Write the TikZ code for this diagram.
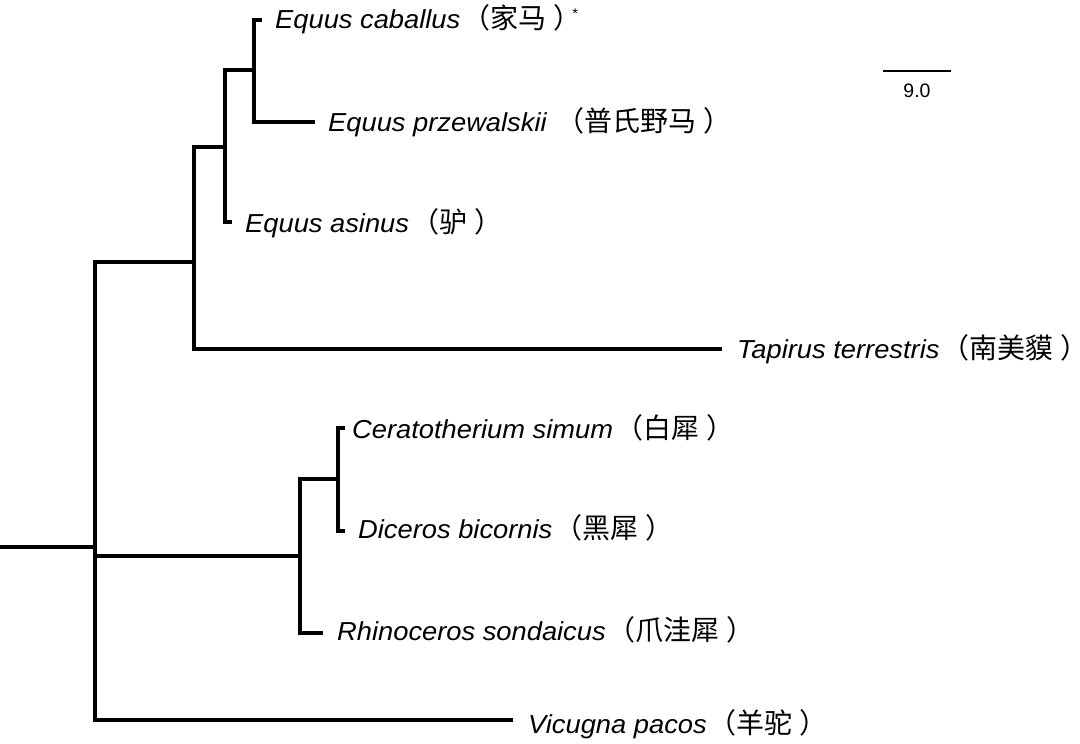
\documentclass[tikz,border=0pt]{standalone}
\usepackage{fontspec}
\setmainfont{Liberation Sans}
\newfontfamily\latinlab[FakeStretch=1.05]{Liberation Sans}
\newfontfamily\cjk{Noto Sans CJK SC}
\newcommand{\cnname}[1]{{\upshape\cjk\fontsize{28}{30}\selectfont\hspace{2pt}（#1\hspace{7pt}）\kern-12pt}}
\begin{document}
\begin{tikzpicture}[x=1pt,y=-1pt,
  branch/.style={line width=3.4pt,line join=miter,line cap=butt,black},
  taxon/.style={anchor=base west,inner sep=0pt,font=\latinlab\fontsize{26}{30}\selectfont\itshape},
  scalelabel/.style={anchor=base,inner sep=0pt,font=\fontsize{19.5}{22}\selectfont}]
\useasboundingbox (0,0) rectangle (1080,744);
% internal nodes
\coordinate (rootstart) at (0,547);
\coordinate (n0) at (95,547);
\coordinate (nA) at (194,262);
\coordinate (nB) at (225,147);
\coordinate (nC) at (254,70);
\coordinate (nD) at (300,556);
\coordinate (nE) at (338,479);
% tip ends
\coordinate (tCab) at (262,20);
\coordinate (tPrz) at (315,122);
\coordinate (tAsi) at (232,222);
\coordinate (tTap) at (722,349);
\coordinate (tCer) at (345,428);
\coordinate (tDic) at (345,531);
\coordinate (tRhi) at (323,633);
\coordinate (tVic) at (513,720);
% tree
\draw[branch] (rootstart) -- (n0);
\draw[branch] (n0) |- (nA);
\draw[branch] (n0) |- (nD);
\draw[branch] (n0) |- (tVic);
\draw[branch] (nA) |- (nB);
\draw[branch] (nA) |- (tTap);
\draw[branch] (nB) |- (nC);
\draw[branch] (nB) |- (tAsi);
\draw[branch] (nC) |- (tCab);
\draw[branch] (nC) |- (tPrz);
\draw[branch] (nD) |- (nE);
\draw[branch] (nD) |- (tRhi);
\draw[branch] (nE) |- (tCer);
\draw[branch] (nE) |- (tDic);
% labels
\node[taxon] (lCab) at (275,28) {Equus caballus\cnname{家马}\kern3pt\raisebox{10pt}{\upshape\fontsize{14}{16}\selectfont *}};
\node[taxon] (lPrz) at (328,131) {Equus przewalskii \cnname{普氏野马}};
\node[taxon] (lAsi) at (245,232) {Equus asinus\cnname{驴}};
\node[taxon] (lTap) at (737,358) {Tapirus terrestris\cnname{南美貘}};
\node[taxon] (lCer) at (352,438) {Ceratotherium simum\cnname{白犀}};
\node[taxon] (lDic) at (358,538) {Diceros bicornis\cnname{黑犀}};
\node[taxon] (lRhi) at (337,640) {Rhinoceros sondaicus\cnname{爪洼犀}};
\node[taxon] (lVic) at (528,733) {Vicugna pacos\cnname{羊驼}};
% scale bar
\coordinate (sbL) at (883,71);
\coordinate (sbR) at (951,71);
\draw[line width=2.6pt] (sbL) -- (sbR);
\node[scalelabel] (sbT) at (917,97) {9.0};
\end{tikzpicture}
\end{document}
